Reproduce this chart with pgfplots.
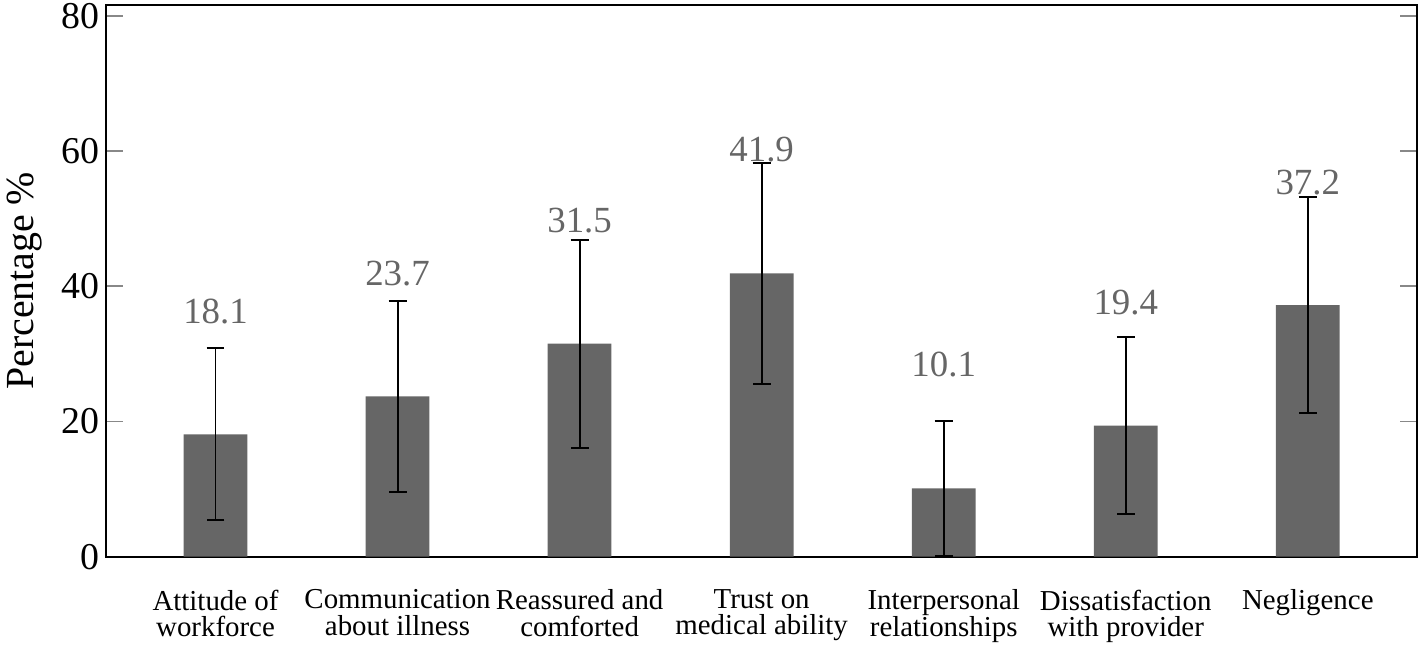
\documentclass[border=0pt]{standalone}
\usepackage{pgfplots}
\pgfplotsset{compat=1.18}
\usepackage{fontspec}
\setmainfont{Liberation Serif}
\definecolor{barc}{HTML}{666666}
\definecolor{tickc}{HTML}{888888}
\begin{document}
\begin{tikzpicture}
\begin{axis}[
  scale only axis,
  width=658pt, height=277pt,
  xmin=-0.6, xmax=6.6,
  ymin=0, ymax=81.6,
  ytick={0,20,40,60,80},
  xtick={0,1,2,3,4,5,6},
  xticklabels={{Attitude of\\workforce},{Communication\\about illness},{Reassured and\\comforted},{Trust on\\medical ability},{Interpersonal\\relationships},{Dissatisfaction\\with provider},{Negligence}},
  xticklabel style={align=center, font=\fontsize{14.5}{13.2}\selectfont, yshift=-13pt},
  yticklabel style={font=\fontsize{19}{20}\selectfont, inner ysep=1.5pt},
  /pgf/number format/assume math mode=true,
  ylabel={Percentage \%},
  ylabel style={font=\fontsize{20}{22}\selectfont, yshift=3pt},
  major x tick style={draw=none},
  ytick style={draw=tickc, line width=0.8pt},
  tick align=inside,
  major tick length=8.5pt,
  axis line style={line width=1pt},
]
\addplot[ybar, bar width=0.35, fill=barc, draw=none,
  error bars/.cd, y dir=both, y explicit,
  error bar style={black, line width=1pt},
  error mark options={rotate=90, mark size=4.5pt, line width=1pt, black}]
  coordinates {
  (0,18.1) +- (0,12.7)
  (1,23.7) +- (0,14.1)
  (2,31.5) +- (0,15.4)
  (3,41.9) +- (0,16.4)
  (4,10.1) +- (0,10.0)
  (5,19.4) +- (0,13.1)
  (6,37.2) +- (0,16.0)
  };
\addplot[draw=none, mark=none, nodes near coords, point meta=explicit symbolic,
  every node near coord/.append style={anchor=center, text=barc, font=\fontsize{18.5}{20}\selectfont}]
  coordinates {
  (0,36.3) [18.1]
  (1,41.9) [23.7]
  (2,49.7) [31.5]
  (3,60.2) [41.9]
  (4,28.4) [10.1]
  (5,37.6) [19.4]
  (6,55.3) [37.2]
  };
\end{axis}
\end{tikzpicture}
\end{document}
